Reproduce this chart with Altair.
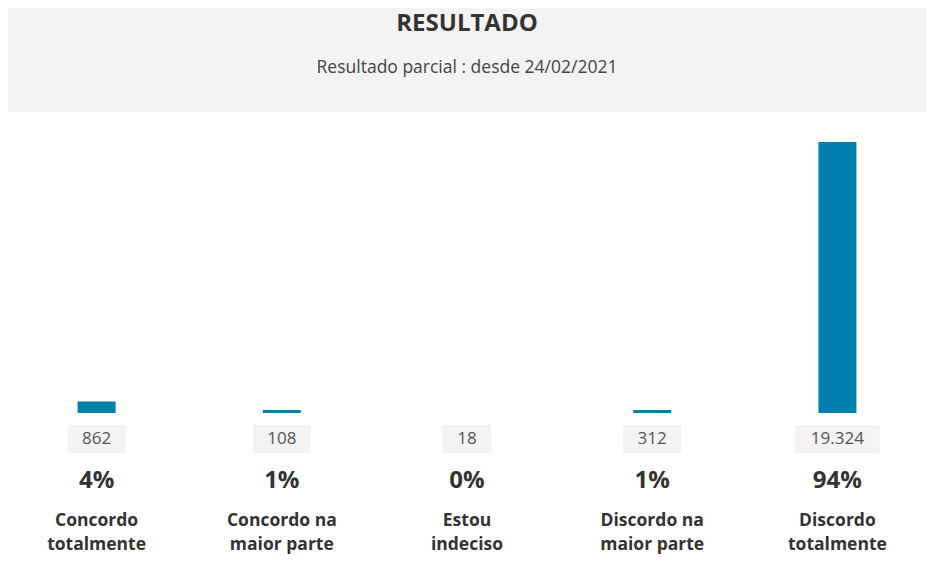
import altair as alt
import pandas as pd

title_text = "RESULTADO"
subtitle_text = "Resultado parcial : desde 24/02/2021"

categories = ["Concordo totalmente", "Concordo na maior parte", "Estou indeciso",
              "Discordo na maior parte", "Discordo totalmente"]
label_lines = [["Concordo", "totalmente"], ["Concordo na", "maior parte"], ["Estou", "indeciso"],
               ["Discordo na", "maior parte"], ["Discordo", "totalmente"]]
counts = [862, 108, 18, 312, 19324]
count_labels = ["862", "108", "18", "312", "19.324"]
percents = [4, 1, 0, 1, 94]

df = pd.DataFrame({
    "cat": categories,
    "lines": label_lines,
    "count": counts,
    "count_label": count_labels,
    "pct": percents,
})
df["pct_label"] = df["pct"].astype(str) + "%"

FONT = "Open Sans"
BLUE = "#0080ad"
GREY_BG = "#f3f3f3"

x_enc = alt.X("cat:N", sort=categories, axis=None,
              scale=alt.Scale(range=[-4, 922], paddingInner=0, paddingOuter=0))

base = alt.Chart(df)

hdr_df = pd.DataFrame({"title": [title_text], "subtitle": [subtitle_text]})

header = alt.Chart(hdr_df).mark_rect(color=GREY_BG).encode(
    x=alt.value(-8), x2=alt.value(926), y=alt.value(-112), y2=alt.value(0)
)

title_mark = alt.Chart(hdr_df).mark_text(
    font=FONT, fontSize=24, fontWeight="bold", color="#333333", baseline="middle"
).encode(x=alt.value(459), y=alt.value(-88), text="title:N")

subtitle_mark = alt.Chart(hdr_df).mark_text(
    font=FONT, fontSize=17.5, color="#444444", baseline="middle"
).encode(x=alt.value(459), y=alt.value(-44), text="subtitle:N")

bars = base.mark_bar(color=BLUE, width=38).encode(
    x=x_enc,
    y=alt.Y("pct:Q", axis=None, scale=alt.Scale(domain=[0, 104.4], nice=False)),
)

boxes = base.transform_calculate(
    boxw="9*length(datum.count_label)+31"
).mark_bar(color=GREY_BG, width=alt.ExprRef("datum.boxw")).encode(
    x=x_enc,
    y=alt.value(313),
    y2=alt.value(341),
)

count_text = base.mark_text(font=FONT, fontSize=17, color="#555555", baseline="middle").encode(
    x=x_enc, y=alt.value(327), text="count_label:N"
)

pct_text = base.mark_text(font=FONT, fontSize=24, fontWeight="bold", color="#333333",
                          baseline="middle").encode(
    x=x_enc, y=alt.value(369), text="pct_label:N"
)

cat_text = base.mark_text(font=FONT, fontSize=17.5, fontWeight="bold", color="#333333",
                          baseline="middle", lineHeight=24).encode(
    x=x_enc, y=alt.value(409), text="lines"
)

chart = alt.layer(header, title_mark, subtitle_mark, bars, boxes, count_text, pct_text, cat_text).properties(
    width=918,
    height=301,
    padding={"left": 0, "top": 104, "right": 0, "bottom": 173},
    autosize=alt.AutoSizeParams(type="none"),
).configure_view(stroke=None)

chart.save("out.html", embed_options={"renderer": "svg", "actions": False})
